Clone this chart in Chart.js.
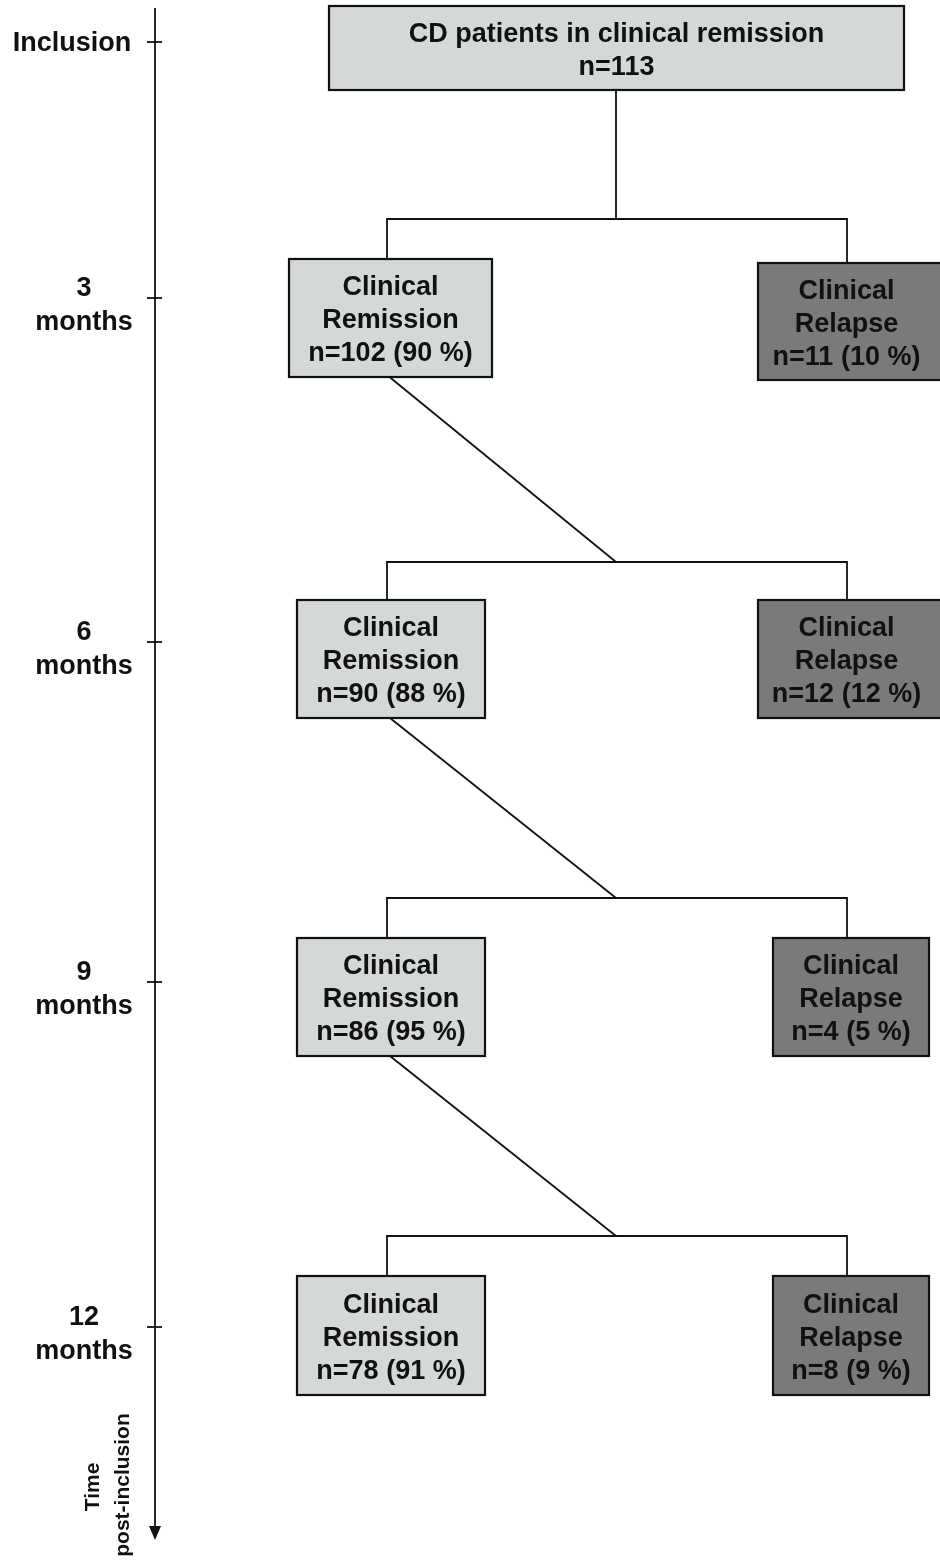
<!DOCTYPE html>
<html>
<head>
<meta charset="utf-8">
<script src="https://cdn.jsdelivr.net/npm/chart.js@4"></script>
<style>
  html, body { margin: 0; padding: 0; background: #fff; }
  #wrap { width: 940px; height: 1564px; }
</style>
</head>
<body>
<div id="wrap"><canvas id="flow"></canvas></div>
<script>
// data
const inclusionLabel = 'CD patients in clinical remission';
const inclusionN = 113;
const timeLabels = [['Inclusion'], ['3', 'months'], ['6', 'months'], ['9', 'months'], ['12', 'months']];
const remissionN = [102, 90, 86, 78];
const remissionPct = [90, 88, 95, 91];
const relapseN = [11, 12, 4, 8];
const relapsePct = [10, 12, 5, 9];
const axisTitle = ['Time', 'post-inclusion'];

// layout (in the 940 x 1564 coordinate space of the scales)
const tickY = [42, 298, 642, 982, 1327];
const labelX = [72, 84, 84, 84, 84];
const rowTop = [259, 600, 938, 1276];
const rowBottom = [377, 718, 1056, 1395];
const relTop = [263, 600, 938, 1276];
const relBottom = [380, 718, 1056, 1395];
const remBox = [[289, 492], [297, 485], [297, 485], [297, 485]];
const relBox = [[758, 944], [758, 944], [773, 929], [773, 929]];
const splitY = [219, 562, 898, 1236];
const stemX = 616, leftX = 387, rightX = 847;

const lightFill = '#d4d8d8';
const darkFill = '#7a7a7a';
const ink = '#111111';
const font = 'bold 27px "Liberation Sans", Arial, sans-serif';

const flowPlugin = {
    id: 'flow',
    afterDraw(chart) {
        const ctx = chart.ctx;
        const X = v => chart.scales.x.getPixelForValue(v);
        const Y = v => chart.scales.y.getPixelForValue(v);

        function line(pts, w) {
            ctx.beginPath();
            ctx.moveTo(X(pts[0][0]), Y(pts[0][1]));
            for (let i = 1; i < pts.length; i++) ctx.lineTo(X(pts[i][0]), Y(pts[i][1]));
            ctx.lineWidth = w || 1.8;
            ctx.strokeStyle = ink;
            ctx.stroke();
        }
        function box(x0, x1, y0, y1, fill, lines) {
            ctx.fillStyle = fill;
            ctx.fillRect(X(x0), Y(y0), X(x1) - X(x0), Y(y1) - Y(y0));
            ctx.lineWidth = 2.2;
            ctx.strokeStyle = ink;
            ctx.strokeRect(X(x0), Y(y0), X(x1) - X(x0), Y(y1) - Y(y0));
            const cx = (x0 + Math.min(x1, 935)) / 2;
            const cy = (y0 + y1) / 2 + 3;
            const gap = 33;
            ctx.fillStyle = ink;
            ctx.font = font;
            ctx.textAlign = 'center';
            ctx.textBaseline = 'middle';
            lines.forEach((t, i) => {
                ctx.fillText(t, X(cx), Y(cy + (i - (lines.length - 1) / 2) * gap));
            });
        }

        ctx.save();
        // timeline
        line([[155, 8], [155, 1530]], 1.8);
        ctx.beginPath();
        ctx.moveTo(X(149), Y(1526));
        ctx.lineTo(X(161), Y(1526));
        ctx.lineTo(X(155), Y(1540));
        ctx.closePath();
        ctx.fillStyle = ink;
        ctx.fill();
        tickY.forEach((ty, i) => {
            line([[147, ty], [162, ty]], 1.8);
            const lab = timeLabels[i];
            ctx.font = font;
            ctx.fillStyle = ink;
            ctx.textAlign = 'center';
            ctx.textBaseline = 'middle';
            lab.forEach((t, j) => {
                const off = lab.length === 1 ? 2 : (j === 0 ? -9 : 25);
                ctx.fillText(t, X(labelX[i]), Y(ty + off));
            });
        });
        // rotated axis title
        ctx.save();
        ctx.font = 'bold 21px "Liberation Sans", Arial, sans-serif';
        ctx.textAlign = 'center';
        ctx.textBaseline = 'middle';
        ctx.fillStyle = ink;
        [[93, 1487], [123, 1485]].forEach((p, i) => {
            ctx.save();
            ctx.translate(X(p[0]), Y(p[1]));
            ctx.rotate(-Math.PI / 2);
            ctx.fillText(axisTitle[i], 0, 0);
            ctx.restore();
        });
        ctx.restore();

        // connectors
        line([[stemX, 90], [stemX, splitY[0]]]);
        splitY.forEach((sy, i) => {
            if (i > 0) {
                const prev = remBox[i - 1];
                line([[(prev[0] + prev[1]) / 2 - 1, rowBottom[i - 1]], [stemX, sy]]);
            }
            line([[leftX, rowTop[i]], [leftX, sy], [rightX, sy], [rightX, relTop[i]]]);
        });

        // boxes
        box(329, 904, 6, 90, lightFill, [inclusionLabel, 'n=' + inclusionN]);
        remissionN.forEach((n, i) => {
            box(remBox[i][0], remBox[i][1], rowTop[i], rowBottom[i], lightFill,
                ['Clinical', 'Remission', 'n=' + n + ' (' + remissionPct[i] + ' %)']);
            box(relBox[i][0], relBox[i][1], relTop[i], relBottom[i], darkFill,
                ['Clinical', 'Relapse', 'n=' + relapseN[i] + ' (' + relapsePct[i] + ' %)']);
        });
        ctx.restore();
    }
};

const configChart = {
    type: 'scatter',
    data: {
        datasets: [{
            label: 'flow',
            data: [],
            pointRadius: 0
        }]
    },
    options: {
        responsive: true,
        maintainAspectRatio: false,
        animation: false,
        layout: { padding: 0 },
        plugins: {
            legend: { display: false },
            tooltip: { enabled: false }
        },
        scales: {
            x: { type: 'linear', min: 0, max: 940, display: false },
            y: { type: 'linear', min: 0, max: 1564, reverse: true, display: false }
        }
    },
    plugins: [flowPlugin]
};

let chart = new Chart(document.getElementById('flow'), configChart);
</script>
</body>
</html>
